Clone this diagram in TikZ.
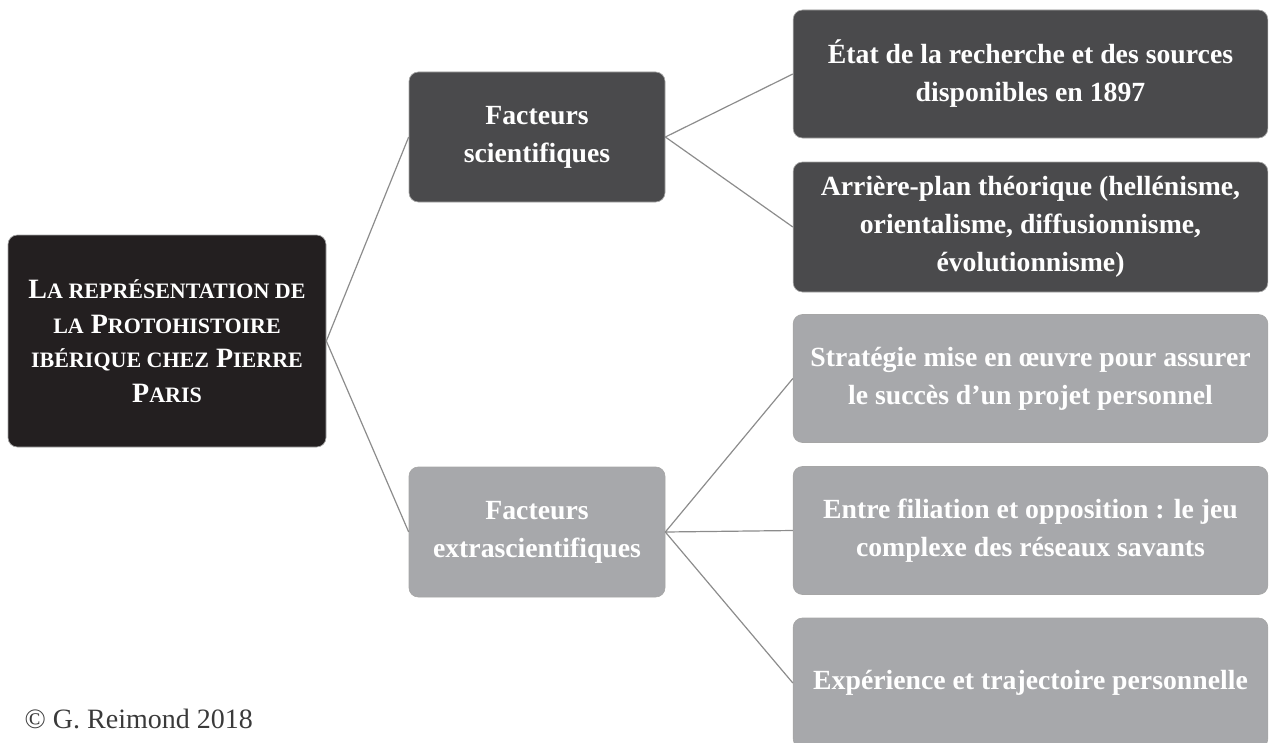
\documentclass[tikz,border=0pt]{standalone}
\usepackage{fontspec}
\setmainfont{Liberation Serif}
\usepackage{xcolor}
\definecolor{rootfill}{HTML}{231F20}
\definecolor{darkfill}{HTML}{4A4A4C}
\definecolor{lightfill}{HTML}{A7A8AB}
\definecolor{linkgray}{HTML}{8C8C8C}
\definecolor{notegray}{HTML}{3A3A3A}
\usepackage{tikz}
\usetikzlibrary{positioning}
\newcommand{\smc}[1]{{\fontsize{16.5}{26}\selectfont #1}}

\begin{document}
\begin{tikzpicture}[x=0.75pt,y=-0.75pt,
  box/.style={rounded corners=7pt, draw=black!35, line width=0.5pt,
    text=white, align=center, inner sep=0pt,
    font=\bfseries\fontsize{20.8}{28.5}\selectfont},
  rootbox/.style={box, fill=rootfill, minimum width=238.5pt,
    minimum height=159pt, font=\bfseries\fontsize{21}{26}\selectfont},
  midbox/.style={box, minimum width=192pt, minimum height=97.5pt},
  leafbox/.style={box, minimum width=356pt, minimum height=96pt},
  link/.style={draw=linkgray, line width=0.9pt}
]
\useasboundingbox (0,0) rectangle (1269,742);
\node[rootbox] (root) at (167,341)
  {L\smc{A REPRÉSENTATION DE}\\ \smc{LA} P\smc{ROTOHISTOIRE}\\
   \smc{IBÉRIQUE CHEZ} P\smc{IERRE}\\ P\smc{ARIS}};
\node[midbox, fill=darkfill] (sci) at (537,137) {Facteurs\\scientifiques};
\node[midbox, fill=lightfill] (extra) at (537,532) {Facteurs\\extrascientifiques};
\node[leafbox, fill=darkfill] (etat) at (1030.5,74)
  {État de la recherche et des sources\\disponibles en 1897};
\node[leafbox, fill=darkfill, minimum height=97.5pt] (theo) at (1030.5,227)
  {Arrière-plan théorique (hellénisme,\\orientalisme, diffusionnisme,\\évolutionnisme)};
\node[leafbox, fill=lightfill] (strat) at (1030.5,378.5)
  {Stratégie mise en œuvre pour assurer\\le succès d’un projet personnel};
\node[leafbox, fill=lightfill] (reseau) at (1030.5,530.5)
  {Entre filiation et opposition : le jeu\\complexe des réseaux savants};
\node[leafbox, fill=lightfill, minimum height=97.5pt] (exp) at (1030.5,683)
  {Expérience et trajectoire personnelle};
\node[anchor=base west, text=notegray, font=\fontsize{21}{26}\selectfont]
  (credit) at (20,728) {© G. Reimond 2018};
\draw[link] (root.east) -- (sci.west);
\draw[link] (root.east) -- (extra.west);
\draw[link] (sci.east) -- (etat.west);
\draw[link] (sci.east) -- (theo.west);
\draw[link] (extra.east) -- (strat.west);
\draw[link] (extra.east) -- (reseau.west);
\draw[link] (extra.east) -- (exp.west);
\end{tikzpicture}
\end{document}
